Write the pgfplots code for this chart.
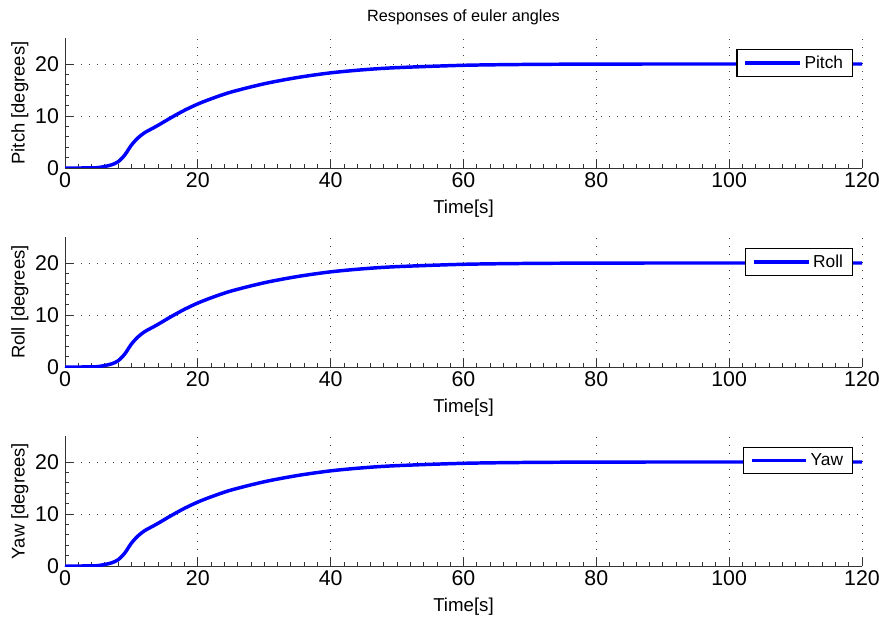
\documentclass[border=0pt]{standalone}
\usepackage{fontspec}
\setmainfont{Liberation Sans}
\usepackage{pgfplots}
\usepackage{pgfplotstable}
\pgfplotsset{compat=1.18}

% response curve (same for all three angles)
\pgfplotstableread{
t    v
0    0
2    0
4    0.02
5    0.08
6    0.3
7    0.6
8    1.2
9    2.5
10   4.4
11   5.8
12   6.8
13   7.5
14   8.2
16   9.7
18   11.1
20   12.3
22   13.3
25   14.6
30   16.2
35   17.4
40   18.3
45   18.9
50   19.3
60   19.75
70   19.92
80   19.98
90   20
100  20
120  20
}\euler

\pgfplotsset{
  eul/.style={
    scale only axis,
    width=597.75pt, height=97.5pt,
    xmin=0, xmax=120, ymin=0, ymax=25,
    xtick={0,20,...,120}, ytick={0,10,20},
    minor x tick num=9, minor y tick num=4,
    axis x line*=bottom, axis y line*=left,
    axis line style={-, black!80, line width=0.6pt},
    tick align=inside,
    tick style={black!80, line width=0.6pt},
    major tick length=6pt, minor tick length=3pt,
    grid=major,
    grid style={black!75, line width=0.7pt, dash pattern=on 0.7pt off 5.3pt},
    tick label style={font=\fontsize{16}{18}\selectfont},
    yticklabel style={xshift=-1pt},
    xlabel style={font=\fontsize{14}{16}\selectfont,
      at={(axis description cs:0.5,-0.315)}, anchor=center},
    ylabel style={font=\fontsize{13.8}{16}\selectfont,
      at={(axis description cs:-0.0565,0.5)}, anchor=center},
    /pgf/number format/assume math mode=true,
    xlabel={Time[s]},
    legend style={font=\fontsize{13}{15}\selectfont, at={(0.9887,0.915)}, anchor=north east,
      draw=black, line width=0.9pt, inner xsep=5pt, inner ysep=2.5pt},
    legend cell align=left,
    legend image code/.code={\draw[#1, line width=2.6pt] (0pt,0pt) -- (41pt,0pt);},
  },
  crv/.style={blue, line width=2.6pt, smooth},
}

\begin{document}
\begin{tikzpicture}
\begin{axis}[eul, name=a1, ylabel={Pitch [degrees]},
  title={Responses of euler angles},
  title style={font=\fontsize{12.2}{14}\selectfont,
    at={(axis description cs:0.5,1.1)}, anchor=center}]
\addplot[crv] table[x=t, y=v] {\euler};
\addlegendentry{Pitch}
\end{axis}
\begin{axis}[eul, at={(0,-149.25pt)}, ylabel={Roll [degrees]}]
\addplot[crv] table[x=t, y=v] {\euler};
\addlegendentry{Roll}
\end{axis}
\begin{axis}[eul, at={(0,-298.5pt)}, ylabel={Yaw [degrees]}]
\addplot[crv] table[x=t, y=v] {\euler};
\addlegendentry{Yaw}
\end{axis}
\pgfresetboundingbox
\path[use as bounding box] (-48.75pt,-336.75pt) rectangle (610.5pt,126pt);
\end{tikzpicture}
\end{document}
